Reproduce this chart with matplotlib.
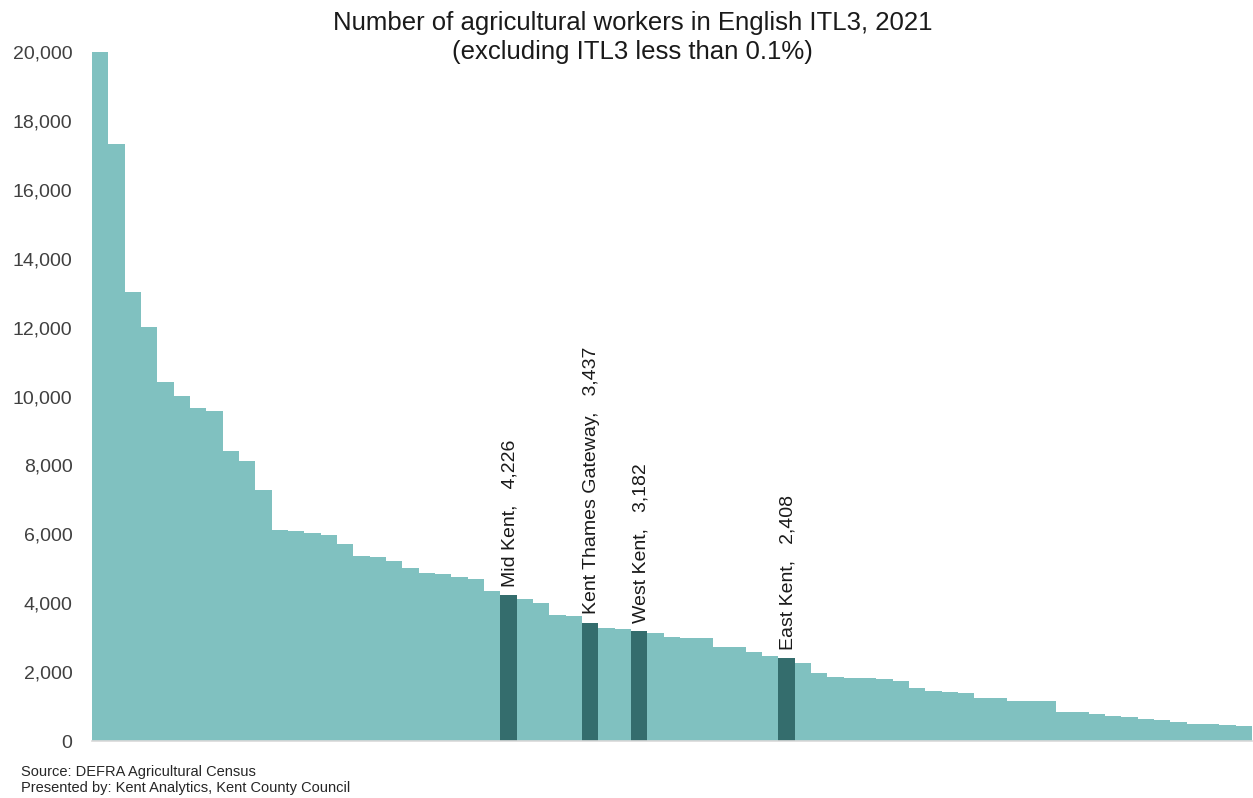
import numpy as np
import matplotlib.pyplot as plt
from matplotlib.ticker import FuncFormatter

# workers per ITL3 area, sorted descending
workers = [20000, 17320, 13020, 12010, 10410, 10010, 9680, 9580, 8410, 8120,
           7290, 6120, 6100, 6030, 5980, 5720, 5370, 5340, 5220, 5030,
           4880, 4840, 4770, 4690, 4360, 4226, 4120, 4010, 3650, 3630,
           3437, 3290, 3260, 3182, 3140, 3030, 2980, 2980, 2740, 2740,
           2570, 2480, 2408, 2260, 1980, 1860, 1840, 1840, 1790, 1740,
           1530, 1440, 1410, 1390, 1240, 1240, 1170, 1170, 1170, 840,
           840, 780, 730, 690, 630, 600, 550, 500, 500, 460, 440]

kent_names = ['Mid Kent', 'Kent Thames Gateway', 'West Kent', 'East Kent']
kent_index = [25, 30, 33, 42]

light = '#80c1c0'
dark = '#346d6d'

plt.rcParams['font.family'] = ['Liberation Sans', 'DejaVu Sans']

fig = plt.figure(figsize=(12.53, 7.98), dpi=100)
ax = fig.add_axes([92 / 1253, 1 - 741 / 798, 1160 / 1253, 689 / 798])

x = np.arange(len(workers))
colors = [dark if i in kent_index else light for i in x]
ax.bar(x, workers, width=1.0, color=colors, linewidth=0)

for name, i in zip(kent_names, kent_index):
    val = workers[i]
    ax.annotate(f'{name},   {val:,}', (x[i], val), xytext=(1, 6), textcoords='offset points',
                rotation=90, ha='center', va='bottom', fontsize=14, color='#1a1a1a')

ax.set_xlim(-0.5, len(workers) - 0.5)
ax.set_ylim(0, 20000)
ax.set_yticks(np.arange(0, 20001, 2000))
ax.yaxis.set_major_formatter(FuncFormatter(lambda v, p: f'{int(v):,}'))
ax.tick_params(axis='y', length=0, labelsize=14, labelcolor='#404040', pad=14)
ax.set_xticks([])
for side in ['top', 'right', 'left']:
    ax.spines[side].set_visible(False)
ax.spines['bottom'].set_color('#d9d9d9')
ax.spines['bottom'].set_linewidth(1.2)

fig.text(0.505, 1 - 11 / 798, 'Number of agricultural workers in English ITL3, 2021\n(excluding ITL3 less than 0.1%)',
         ha='center', va='top', fontsize=18.5, color='#1a1a1a', linespacing=1.25)

fig.text(21 / 1253, 1 - 780 / 798, 'Source: DEFRA Agricultural Census\nPresented by: Kent Analytics, Kent County Council',
         ha='left', va='center', fontsize=10.5, color='#262626', linespacing=1.25)

fig.savefig('out.png', dpi=100)
